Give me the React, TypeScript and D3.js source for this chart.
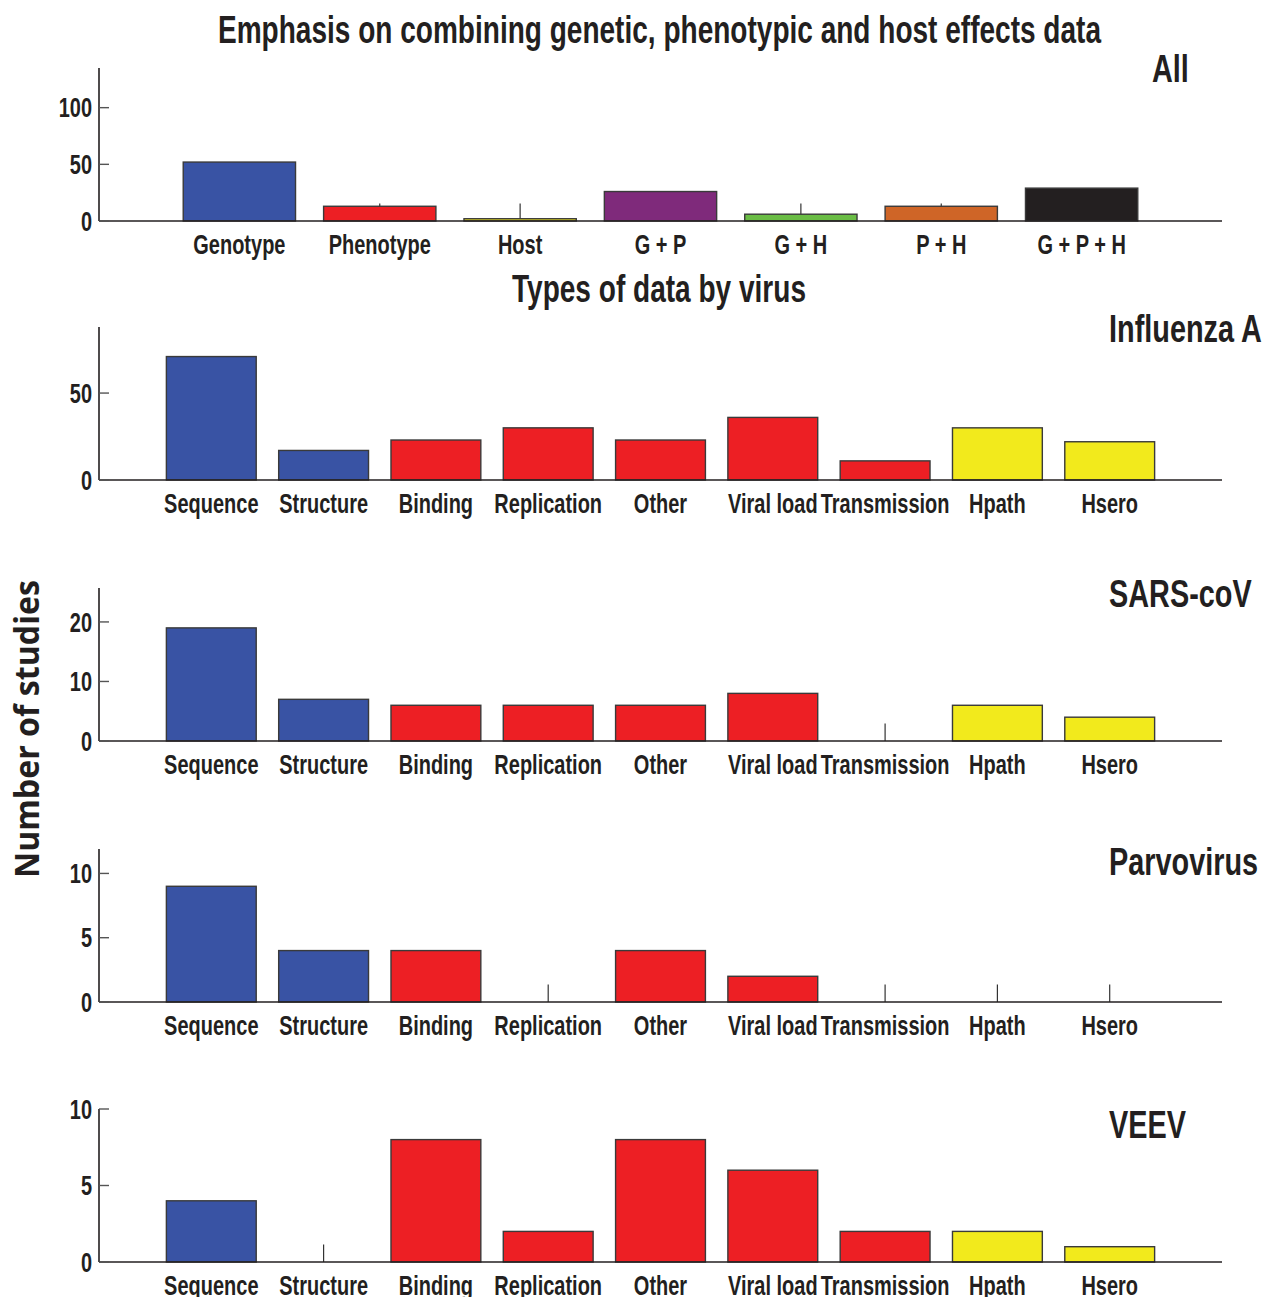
import React from "react";
import * as d3 from "d3";

// ---- data ----
const summaryCategories = ["Genotype", "Phenotype", "Host", "G + P", "G + H", "P + H", "G + P + H"];
const summaryValues = [52, 13, 2, 26, 6, 13, 29];
const summaryColors = ["#3953a4", "#ed1f24", "#f2ea1c", "#7f2a7b", "#6abd45", "#cf6527", "#231f20"];
const summaryStubs = ["Phenotype", "Host", "G + H", "P + H"];
const summaryTicks = [0, 50, 100];

const virusCategories = ["Sequence", "Structure", "Binding", "Replication", "Other", "Viral load", "Transmission", "Hpath", "Hsero"];
const virusColors = ["#3953a4", "#3953a4", "#ed1f24", "#ed1f24", "#ed1f24", "#ed1f24", "#ed1f24", "#f2ea1c", "#f2ea1c"];

const influenzaValues = [71, 17, 23, 30, 23, 36, 11, 30, 22];
const influenzaTicks = [0, 50];
const influenzaStubs: string[] = [];

const sarsValues = [19, 7, 6, 6, 6, 8, 0, 6, 4];
const sarsTicks = [0, 10, 20];
const sarsStubs = ["Transmission"];

const parvoValues = [9, 4, 4, 0, 4, 2, 0, 0, 0];
const parvoTicks = [0, 5, 10];
const parvoStubs = ["Replication", "Transmission", "Hpath", "Hsero"];

const veevValues = [4, 0, 8, 2, 8, 6, 2, 2, 1];
const veevTicks = [0, 5, 10];
const veevStubs = ["Structure"];

// condensed look: Liberation Sans bold squeezed horizontally
const SANS = "'Liberation Sans', Arial, sans-serif";
const INK = "#231f20";
const SQUEEZE = 0.74;

const X0 = 99;
const X1 = 1222;
const PANEL_H = 153;

function NText(props: { x: number; y: number; size: number; anchor?: string; dy?: string; children: React.ReactNode }) {
  return (
    <g transform={`translate(${props.x},${props.y}) scale(${SQUEEZE},1)`}>
      <text textAnchor={props.anchor || "start"} dy={props.dy} fontFamily={SANS} fontWeight="bold" fontSize={props.size} fill={INK}>
        {props.children}
      </text>
    </g>
  );
}

type PanelProps = {
  top: number;
  categories: string[];
  values: number[];
  colors: string[];
  yMax: number;
  ticks: number[];
  stubs: string[];
  name: string;
  nameX: number;
  nameY: number;
};

function Panel(p: PanelProps) {
  const zero = p.top + PANEL_H;
  const x = d3.scaleBand<string>().domain(p.categories).range([X0, X1]).paddingInner(0.2).paddingOuter(0.6);
  const y = d3.scaleLinear().domain([0, p.yMax]).range([zero, p.top]);
  const stubH = p.yMax * 0.115;
  const cx = (c: string) => x(c)! + x.bandwidth() / 2;
  return (
    <g>
      {/* little stubs sit behind the bars */}
      {p.stubs.map((c) => (
        <line key={"s" + c} x1={cx(c)} x2={cx(c)} y1={zero} y2={y(stubH)} stroke="#333" strokeWidth={1.2} />
      ))}
      {p.categories.map((c, i) =>
        p.values[i] > 0 ? (
          <rect
            key={c}
            x={x(c)}
            y={y(p.values[i])}
            width={x.bandwidth()}
            height={zero - y(p.values[i])}
            fill={p.colors[i]}
            stroke="#3a3a3a"
            strokeWidth={1.4}
          />
        ) : null
      )}
      <line x1={X0} x2={X1} y1={zero} y2={zero} stroke={INK} strokeWidth={1.6} />
      <line x1={X0} x2={X0} y1={p.top} y2={zero} stroke={INK} strokeWidth={1.6} />
      {p.ticks.map((t) => (
        <g key={"t" + t}>
          <line x1={X0} x2={X0 + 10} y1={y(t)} y2={y(t)} stroke="#555" strokeWidth={1.4} />
          <NText x={X0 - 7} y={y(t)} dy="0.36em" anchor="end" size={27}>
            {t}
          </NText>
        </g>
      ))}
      {p.categories.map((c) => (
        <NText key={"l" + c} x={cx(c)} y={zero + 33} anchor="middle" size={27}>
          {c}
        </NText>
      ))}
      <NText x={p.nameX} y={p.nameY} size={39}>
        {p.name}
      </NText>
    </g>
  );
}

export default function App() {
  return (
    <svg width={1262} height={1297} style={{ position: "absolute", left: 0, top: 0, background: "#fff" }}>
      <text x={218} y={43} textLength={883} lengthAdjust="spacingAndGlyphs" fontFamily={SANS} fontWeight="bold" fontSize={38} fill={INK}>
        Emphasis on combining genetic, phenotypic and host effects data
      </text>
      <Panel top={68} categories={summaryCategories} values={summaryValues} colors={summaryColors} yMax={135} ticks={summaryTicks} stubs={summaryStubs} name="All" nameX={1152} nameY={82} />
      <text x={512} y={302} textLength={294} lengthAdjust="spacingAndGlyphs" fontFamily={SANS} fontWeight="bold" fontSize={39} fill={INK}>
        Types of data by virus
      </text>
      <Panel top={327} categories={virusCategories} values={influenzaValues} colors={virusColors} yMax={88} ticks={influenzaTicks} stubs={influenzaStubs} name="Influenza A" nameX={1109} nameY={342} />
      <Panel top={588} categories={virusCategories} values={sarsValues} colors={virusColors} yMax={25.7} ticks={sarsTicks} stubs={sarsStubs} name="SARS-coV" nameX={1109} nameY={607} />
      <Panel top={849} categories={virusCategories} values={parvoValues} colors={virusColors} yMax={11.9} ticks={parvoTicks} stubs={parvoStubs} name="Parvovirus" nameX={1109} nameY={875} />
      <Panel top={1109} categories={virusCategories} values={veevValues} colors={virusColors} yMax={10} ticks={veevTicks} stubs={veevStubs} name="VEEV" nameX={1109} nameY={1138} />
      <text transform="translate(39,729) rotate(-90)" textAnchor="middle" textLength={298} lengthAdjust="spacingAndGlyphs" fontFamily="'Open Sans', sans-serif" fontWeight="bold" fontSize={34} fill={INK}>
        Number of studies
      </text>
    </svg>
  );
}
